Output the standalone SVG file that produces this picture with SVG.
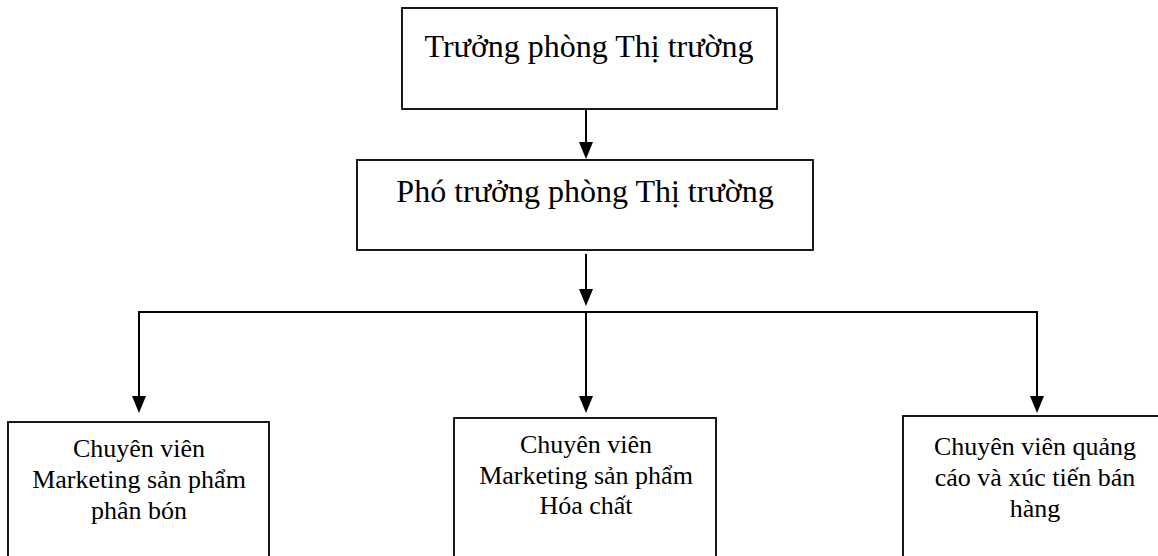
<svg xmlns="http://www.w3.org/2000/svg" width="1158" height="556" viewBox="0 0 1158 556">
  <style>
    .box { fill: #ffffff; stroke: #000000; stroke-width: 1.8; }
    .lbl { font-family: "Liberation Serif", "Times New Roman", serif; fill: #000000; text-anchor: middle; }
    .big { font-size: 32px; }
    .small { font-size: 26px; }
    .conn { fill: none; stroke: #000000; stroke-width: 2; }
    .head { fill: #000000; }
  </style>
  <rect x="0" y="0" width="1158" height="556" fill="#ffffff"/>

  <g id="connectors">
    <path class="conn" d="M586,109 L586,143"/>
    <polygon class="head" points="579,142 593,142 586,159"/>
    <path class="conn" d="M586,254 L586,290"/>
    <polygon class="head" points="579,289 593,289 586,306"/>
    <path class="conn" d="M139,398 L139,312 L1037,312 L1037,398"/>
    <path class="conn" d="M586,312 L586,398"/>
    <polygon class="head" points="132,396 146,396 139,413"/>
    <polygon class="head" points="579,396 593,396 586,413"/>
    <polygon class="head" points="1030,396 1044,396 1037,413"/>
  </g>

  <g id="node-truong-phong">
    <rect class="box" x="402" y="8" width="375" height="101"/>
    <text class="lbl big" x="589" y="57">Trưởng phòng Thị trường</text>
  </g>

  <g id="node-pho-truong-phong">
    <rect class="box" x="357" y="160" width="456" height="90"/>
    <text class="lbl big" x="585" y="202">Phó trưởng phòng Thị trường</text>
  </g>

  <g id="node-phan-bon">
    <rect class="box" x="8" y="422" width="261" height="150"/>
    <text class="lbl small" x="139" y="457">Chuyên viên</text>
    <text class="lbl small" x="139" y="488">Marketing sản phẩm</text>
    <text class="lbl small" x="139" y="519">phân bón</text>
  </g>

  <g id="node-hoa-chat">
    <rect class="box" x="454" y="418" width="262" height="150"/>
    <text class="lbl small" x="586" y="453">Chuyên viên</text>
    <text class="lbl small" x="586" y="484">Marketing sản phẩm</text>
    <text class="lbl small" x="586" y="514">Hóa chất</text>
  </g>

  <g id="node-quang-cao">
    <rect class="box" x="903" y="416" width="270" height="150"/>
    <text class="lbl small" x="1035" y="455">Chuyên viên quảng</text>
    <text class="lbl small" x="1035" y="486">cáo và xúc tiến bán</text>
    <text class="lbl small" x="1035" y="517">hàng</text>
  </g>
</svg>
